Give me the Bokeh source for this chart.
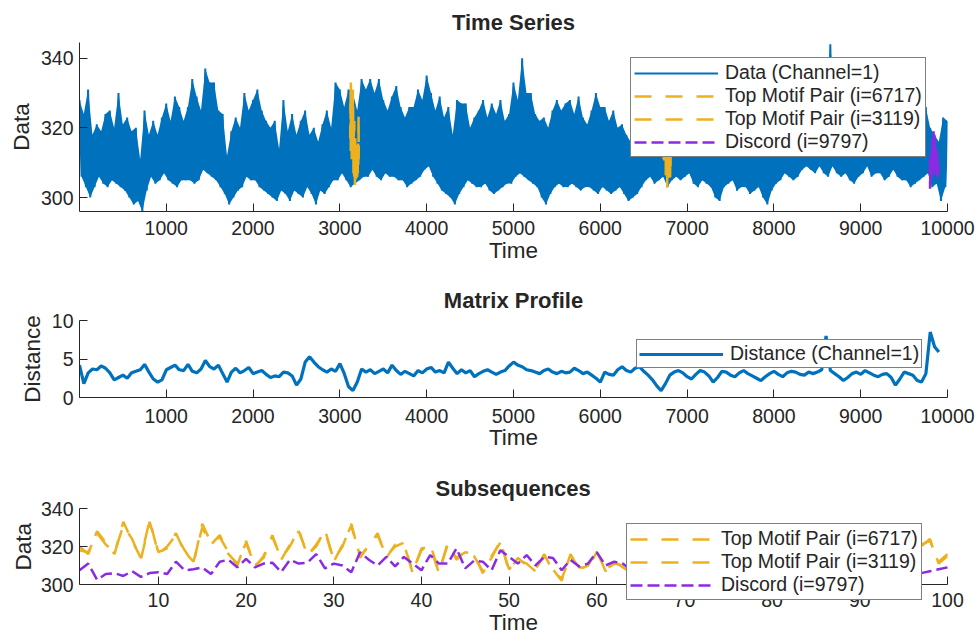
from bokeh.plotting import figure
from bokeh.layouts import column
from bokeh.models import FixedTicker, Range1d, Title
from bokeh.embed import file_html
from bokeh.resources import INLINE

FONT = "Liberation Sans"
TXT = "#262626"
BLUE = "#0072BD"
ORANGE = "#EDB120"
PURPLE = "#8a2be2"

# ---- Time series (channel 1): local peaks every 50 samples, troughs in between
ts_peaks = [
    328, 324, 331, 318, 321, 319, 324, 325, 320, 330,
    321, 323, 319, 320, 311, 325, 318, 322, 318, 323,
    327, 322, 329, 326, 322, 326, 334, 329, 325, 337,
    333, 333, 325, 324, 312, 319, 323, 320, 330, 325,
    328, 331, 325, 322, 320, 322, 314, 328, 319, 324,
    318, 322, 325, 318, 320, 316, 321, 325, 320, 333,
    331, 326, 331, 330, 325, 334, 331, 334, 330, 334,
    328, 325, 329, 332, 326, 323, 326, 326, 331, 328,
    335, 330, 325, 329, 323, 326, 318, 328, 327, 327,
    320, 323, 325, 328, 323, 327, 324, 328, 322, 324,
    333, 328, 340, 330, 330, 324, 322, 323, 320, 325,
    328, 325, 327, 328, 324, 329, 323, 321, 325, 330,
    326, 326, 322, 325, 320, 321, 318, 316, 316, 315,
    318, 322, 316, 320, 317, 321, 319, 324, 318, 322,
    320, 325, 318, 321, 316, 323, 319, 315, 322, 318,
    324, 320, 317, 322, 319, 316, 321, 318, 314, 320,
    323, 319, 325, 321, 324, 320, 326, 322, 325, 321,
    327, 323, 326, 344, 328, 340, 325, 321, 324, 320,
    326, 322, 325, 321, 324, 319, 323, 320, 317, 322,
    319, 324, 321, 318, 322, 326, 320, 318, 316, 323,
    322,
]
ts_troughs = [
    306, 303, 300, 303, 306, 304, 303, 305, 304, 303,
    302, 300, 298, 299, 296, 302, 306, 304, 305, 307,
    305, 304, 303, 305, 305, 305, 304, 305, 308, 307,
    306, 305, 303, 301, 298, 300, 302, 303, 306, 305,
    305, 303, 302, 301, 300, 299, 302, 301, 299, 302,
    301, 300, 303, 301, 298, 302, 301, 303, 305, 305,
    307, 305, 303, 304, 305, 306, 306, 308, 306, 305,
    307, 306, 306, 305, 305, 303, 304, 305, 306, 308,
    309, 306, 304, 302, 301, 300, 298, 301, 303, 305,
    304, 303, 303, 304, 302, 301, 302, 303, 304, 304,
    306, 307, 306, 305, 304, 303, 300, 298, 301, 303,
    304, 303, 303, 304, 303, 302, 303, 303, 302, 301,
    303, 302, 301, 302, 303, 301, 299, 300, 301, 303,
    305, 306, 304, 305, 306, 303, 305, 306, 305, 306,
    307, 304, 303, 305, 304, 303, 300, 299, 303, 304,
    305, 302, 303, 303, 301, 302, 303, 300, 298, 302,
    304, 305, 307, 306, 305, 306, 308, 309, 308, 307,
    309, 307, 306, 309, 307, 306, 307, 305, 304, 306,
    307, 309, 306, 307, 307, 305, 306, 308, 306, 305,
    305, 303, 304, 305, 306, 307, 303, 304, 299, 303,
]

# ---- Matrix profile distance, sampled every 50 samples from index 1
mp_values = [
    4.2, 1.8, 3.2, 3.7, 3.6, 4.1, 3.8, 3.2, 2.3, 2.6,
    2.9, 2.5, 3.2, 3.4, 3.6, 4.3, 3.3, 2.4, 2.0, 2.3,
    3.6, 3.9, 4.2, 3.6, 3.5, 4.3, 3.4, 3.2, 3.7, 4.8,
    4.0, 3.7, 4.2, 3.1, 2.0, 3.3, 3.8, 3.2, 3.5, 3.9,
    3.1, 3.3, 3.5, 3.0, 2.6, 2.8, 2.7, 3.3, 3.2, 2.8,
    1.6, 2.4, 4.6, 5.3, 4.6, 4.0, 3.6, 3.3, 3.7, 3.4,
    4.4, 3.1, 1.4, 0.9, 2.0, 3.7, 3.3, 3.6, 3.1, 3.4,
    3.7, 3.2, 4.2, 3.5, 3.0, 3.4, 3.1, 2.8, 3.5, 3.2,
    3.7, 3.9, 3.3, 3.5, 3.2, 4.6, 3.8, 3.1, 3.6, 3.2,
    3.5, 2.7, 3.1, 3.4, 3.6, 3.3, 3.0, 3.3, 3.5, 4.1,
    4.6, 4.2, 4.0, 3.6, 3.5, 3.3, 3.1, 3.5, 3.7, 3.3,
    3.1, 3.4, 3.2, 3.3, 3.8, 3.5, 3.1, 3.3, 2.9, 2.5,
    2.0, 3.3, 3.0, 2.9, 3.6, 4.0, 3.5, 3.3, 3.8, 4.0,
    3.4, 2.9, 2.3, 1.5, 0.9, 1.8, 2.9, 3.3, 3.5, 3.2,
    2.7, 2.4, 3.0, 3.5, 3.3, 2.8, 2.0, 2.6, 3.4, 3.3,
    2.9, 2.7, 3.2, 3.5, 3.1, 2.8, 2.5, 2.2, 2.7, 3.1,
    3.4, 3.0, 2.7, 3.2, 3.4, 3.3, 3.0, 2.9, 3.3, 3.1,
    3.3, 3.6, 8.0, 3.5, 3.1, 2.7, 2.2, 2.6, 3.1, 3.3,
    3.0, 3.5, 3.2, 2.9, 2.7, 3.0, 3.1, 2.6, 1.6, 2.4,
    3.3, 3.1, 2.9, 2.2, 2.0, 3.1, 8.5, 6.6, 5.9,
]

# ---- Subsequences (length 100)
motif_a_idx = 6717
motif_a = [
    320, 316, 328, 322, 316, 333, 323, 314, 334, 316,
    320, 326, 318, 311, 332, 322, 325, 317, 310, 323,
    309, 315, 325, 314, 320, 329, 315, 321, 328, 313,
    320, 332, 314, 321, 326, 315, 320, 322, 306, 319,
    320, 306, 322, 313, 318, 315, 307, 314, 323, 307,
    314, 310, 308, 315, 308, 302, 316, 308, 310, 318,
    307, 312, 309, 306, 311, 316, 309, 313, 307, 315,
    310, 306, 314, 311, 308, 316, 309, 312, 307, 314,
    310, 305, 313, 308, 311, 316, 308, 312, 306, 314,
    310, 317, 312, 309, 315, 318, 321, 323, 312, 316,
]
motif_b_idx = 3119
motif_b = [
    318, 317, 327, 321, 317, 331, 324, 313, 333, 317,
    319, 327, 317, 312, 330, 321, 326, 316, 311, 322,
    310, 314, 326, 313, 321, 328, 316, 320, 329, 312,
    321, 331, 315, 320, 327, 314, 321, 321, 307, 318,
    321, 307, 321, 314, 317, 316, 306, 315, 322, 308,
    313, 311, 307, 316, 307, 303, 315, 309, 309, 317,
    308, 311, 310, 305, 312, 315, 310, 312, 308, 314,
    311, 305, 315, 310, 309, 315, 310, 311, 308, 313,
    311, 306, 312, 309, 310, 315, 309, 311, 307, 313,
    311, 316, 313, 308, 316, 317, 320, 324, 311, 315,
]
discord_idx = 9797
discord = [
    307.5, 311, 302.5, 305.5, 306, 304.5, 307, 304, 306, 306.5,
    305.5, 312, 307.5, 308, 309, 305.5, 312, 313, 309, 313.5,
    309, 311, 311.5, 306.5, 313, 311, 311.5, 316, 308.5, 311,
    310, 306.5, 317, 313, 310, 314.5, 309.5, 314.5, 311, 307.5,
    315.5, 311, 311, 319, 308.5, 312.5, 312, 307.5, 318, 314.5,
    311, 315.5, 310, 314.5, 314, 307.5, 313, 309.5, 311, 317,
    310, 312, 311, 307, 311, 313, 308, 312, 310, 314,
    309, 311, 307, 313, 310, 312, 308, 311, 314, 309,
    310, 307, 312, 309, 311, 306, 310, 308, 312, 307,
    309, 311, 306, 310, 308, 307, 306, 307, 308, 309,
]

time_ticks = [1000, 2000, 3000, 4000, 5000, 6000, 7000, 8000, 9000, 10000]
sub_ticks = [10, 20, 30, 40, 50, 60, 70, 80, 90, 100]

# series assembled from the peak/trough readings
peak_t = [max(1, 50 * k) for k in range(len(ts_peaks))]
trough_t = [50 * k + 25 for k in range(len(ts_troughs))]
ts_t, ts_v = [], []
for k, hi in enumerate(ts_peaks):
    ts_t.append(peak_t[k])
    ts_v.append(hi)
    if k < len(ts_troughs):
        ts_t.append(trough_t[k])
        ts_v.append(ts_troughs[k])
# filled envelope underneath the dense trace
band_x = peak_t + trough_t[::-1]
band_y = ts_peaks + ts_troughs[::-1]

mp_t = [1 + 50 * k for k in range(len(mp_values))]
sub_x = list(range(1, len(motif_a) + 1))


def styled(height, top, bottom, xr, yr, title, right=31):
    p = figure(width=978, height=height, x_range=xr, y_range=yr,
               output_backend="svg", toolbar_location=None, title=title,
               min_border_left=79, min_border_right=right,
               min_border_top=top, min_border_bottom=bottom,
               frame_align=False)
    p.title.align = "center"
    p.title.text_font = FONT
    p.title.text_font_size = "22px"
    p.title.text_font_style = "bold"
    p.title.text_color = TXT
    p.title.standoff = 15
    p.outline_line_color = None
    p.xgrid.visible = False
    p.ygrid.visible = False
    for ax in (p.xaxis[0], p.yaxis[0]):
        ax.major_tick_in = 8
        ax.major_tick_out = 0
        ax.minor_tick_line_color = None
        ax.axis_line_color = TXT
        ax.major_tick_line_color = TXT
        ax.major_label_text_font = FONT
        ax.major_label_text_font_size = "19.5px"
        ax.major_label_text_color = TXT
        ax.axis_label_text_font = FONT
        ax.axis_label_text_font_size = "22.5px"
        ax.axis_label_text_font_style = "normal"
        ax.axis_label_text_color = TXT
    p.xaxis.major_label_standoff = 11
    p.yaxis.major_label_standoff = 6
    p.xaxis.axis_label_standoff = -1
    p.yaxis.axis_label_standoff = 4
    p.xaxis.axis_label = "Time"
    return p


def style_legend(p, loc, pad):
    lg = p.legend[0]
    lg.location = loc
    lg.label_text_font = FONT
    lg.label_text_font_size = "19.5px"
    lg.label_text_color = TXT
    lg.glyph_width = 84
    lg.glyph_height = 20
    lg.label_height = 20
    lg.label_standoff = 7
    lg.spacing = 0
    lg.padding = pad
    lg.margin = 0
    lg.border_line_color = "black"
    lg.border_line_width = 1
    lg.background_fill_alpha = 1.0


# ---- Time Series
p1 = styled(271, 42, 60, Range1d(1, 10000), Range1d(296, 344.5), "Time Series")
p1.yaxis.axis_label = "Data"
p1.xaxis.ticker = FixedTicker(ticks=time_ticks)
p1.xaxis.major_label_standoff = 9
p1.xaxis.axis_label_standoff = 0
p1.yaxis.ticker = FixedTicker(ticks=[300, 320, 340])
p1.patch(band_x, band_y, fill_color=BLUE, line_color=None)
p1.line(ts_t, ts_v, color=BLUE, line_width=2, legend_label="Data (Channel=1)")
p1.line([motif_a_idx + i for i in range(len(motif_a))], motif_a, color=ORANGE,
        line_width=2.5, line_dash="17 14", legend_label=f"Top Motif Pair (i={motif_a_idx})")
p1.line([motif_b_idx + i for i in range(len(motif_b))], motif_b, color=ORANGE,
        line_width=2.5, line_dash="17 14", legend_label=f"Top Motif Pair (i={motif_b_idx})")
p1.line([discord_idx + i for i in range(len(discord))], discord, color=PURPLE,
        line_width=2.5, line_dash="12 5", legend_label=f"Discord (i={discord_idx})")
style_legend(p1, (551, 54), 3)

# ---- Matrix Profile
p2 = styled(184, 49, 58, Range1d(1, 10000), Range1d(0, 10), "Matrix Profile")
p2.yaxis.axis_label = "Distance"
p2.xaxis.ticker = FixedTicker(ticks=time_ticks)
p2.yaxis.ticker = FixedTicker(ticks=[0, 5, 10])
p2.line(mp_t, mp_values, color=BLUE, line_width=3.2, legend_label="Distance (Channel=1)")
style_legend(p2, (557, 29), 2)

# ---- Subsequences: the frame runs to the bottom and right edges so the
# legend can overhang the time axis, which is pinned at Data = 300 and
# bounded to samples 1..100.
p3 = styled(180, 53, 0, Range1d(1, 103.54), Range1d(273.16, 340), "Subsequences", right=0)
p3.title.align = "left"
p3.title.offset = 356
p3.xaxis.ticker = FixedTicker(ticks=sub_ticks)
p3.xaxis.fixed_location = 300
p3.xaxis.bounds = (1, 100)
p3.xaxis.major_label_standoff = 8
p3.xaxis.axis_label_standoff = 0
p3.yaxis.ticker = FixedTicker(ticks=[300, 320, 340])
p3.yaxis.bounds = (300, 340)
p3.add_layout(Title(text="Data", align="left", offset=65, standoff=4,
                    text_font=FONT, text_font_size="22.5px",
                    text_font_style="normal", text_color=TXT), "left")
p3.line(sub_x, motif_a, color=ORANGE, line_width=2.5, line_dash="17 14",
        legend_label=f"Top Motif Pair (i={motif_a_idx})")
p3.line(sub_x, motif_b, color=ORANGE, line_width=2.5, line_dash="17 14",
        legend_label=f"Top Motif Pair (i={motif_b_idx})")
p3.line(sub_x, discord, color=PURPLE, line_width=2.5, line_dash="12 5",
        legend_label=f"Discord (i={discord_idx})")
style_legend(p3, (547, 35), 3)

layout = column(p1, p2, p3)
open("out.html", "w").write(file_html(layout, INLINE))
